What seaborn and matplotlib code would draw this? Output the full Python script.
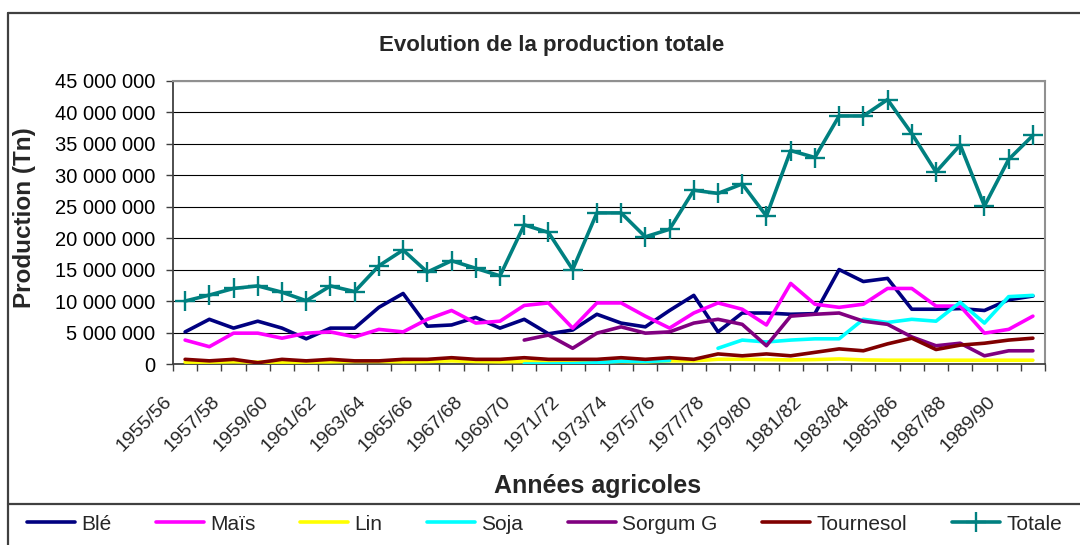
import numpy as np
import pandas as pd
import matplotlib
matplotlib.use("Agg")
import matplotlib.pyplot as plt
import matplotlib.transforms as mtransforms
from matplotlib.lines import Line2D
from matplotlib.ticker import FuncFormatter, FixedLocator
import seaborn as sns

# ---------------- data (tonnes, in millions) ----------------
years = ["1955/56", "1956/57", "1957/58", "1958/59", "1959/60", "1960/61", "1961/62",
         "1962/63", "1963/64", "1964/65", "1965/66", "1966/67", "1967/68", "1968/69",
         "1969/70", "1970/71", "1971/72", "1972/73", "1973/74", "1974/75", "1975/76",
         "1976/77", "1977/78", "1978/79", "1979/80", "1980/81", "1981/82", "1982/83",
         "1983/84", "1984/85", "1985/86", "1986/87", "1987/88", "1988/89", "1989/90",
         "1990/91"]

nan = np.nan
ble = [5.1, 7.1, 5.7, 6.8, 5.7, 4.0, 5.7, 5.7, 9.0, 11.2, 6.0, 6.2, 7.4, 5.7, 7.1, 4.8,
       5.4, 7.9, 6.5, 5.9, 8.5, 10.9, 5.1, 8.1, 8.1, 7.9, 8.0, 15.0, 13.1, 13.6, 8.7, 8.7,
       8.8, 8.5, 10.2, 10.8]
mais = [3.8, 2.75, 4.9, 4.9, 4.1, 4.9, 5.1, 4.3, 5.5, 5.1, 7.1, 8.5, 6.5, 6.8, 9.3, 9.7,
        5.7, 9.7, 9.7, 7.6, 5.7, 8.1, 9.7, 8.7, 6.2, 12.8, 9.5, 9.0, 9.5, 12.0, 12.0, 9.2,
        9.2, 4.9, 5.5, 7.6]
lin = [0.3, 0.3, 0.35, 0.3, 0.3, 0.3, 0.35, 0.4, 0.4, 0.35, 0.4, 0.5, 0.4, 0.35, 0.4, 0.3,
       0.35, 0.4, 0.4, 0.35, 0.5, 0.5, 0.75, 0.75, 0.7, 0.65, 0.7, 0.8, 0.65, 0.6, 0.6, 0.6,
       0.6, 0.6, 0.6, 0.6]
soja = [nan] * 14 + [0.0, 0.0, 0.05, 0.2, 0.45, 0.4, 0.55, nan, 2.5, 3.8, 3.5, 3.8, 4.0,
                     4.0, 7.1, 6.6, 7.1, 6.8, 9.8, 6.5, 10.7, 10.9]
sorgum = [nan] * 14 + [3.8, 4.6, 2.5, 4.9, 5.9, 4.9, 5.1, 6.5, 7.1, 6.3, 2.9, 7.6, 7.9,
                       8.1, 6.8, 6.3, 4.3, 2.9, 3.3, 1.3, 2.1, 2.1]
tournesol = [0.74, 0.5, 0.74, 0.2, 0.74, 0.5, 0.74, 0.5, 0.5, 0.74, 0.74, 1.0, 0.74, 0.74,
             1.0, 0.74, 0.74, 0.74, 1.0, 0.74, 1.0, 0.74, 1.6, 1.3, 1.6, 1.3, 1.85, 2.4,
             2.1, 3.2, 4.1, 2.3, 3.0, 3.3, 3.8, 4.1]
totale = [10.0, 10.95, 12.0, 12.4, 11.4, 10.05, 12.4, 11.5, 15.6, 18.1, 14.6, 16.4, 15.2,
          14.0, 22.1, 20.9, 15.0, 24.0, 24.0, 20.2, 21.4, 27.6, 27.1, 28.6, 23.5, 33.9,
          32.8, 39.4, 39.4, 42.0, 36.6, 30.5, 34.8, 25.1, 32.5, 36.3]

series_names = ["Blé", "Maïs", "Lin", "Soja", "Sorgum G", "Tournesol", "Totale"]
series_colors = ["#000080", "#FF00FF", "#FFFF00", "#00FFFF", "#800080", "#800000", "#008080"]

title = "Evolution de la production totale"
xlabel = "Années agricoles"
ylabel = "Production (Tn)"

# ---------------- build table ----------------
df = pd.DataFrame({
    "pos": np.arange(len(years)),
    "Blé": np.array(ble) * 1e6,
    "Maïs": np.array(mais) * 1e6,
    "Lin": np.array(lin) * 1e6,
    "Soja": np.array(soja) * 1e6,
    "Sorgum G": np.array(sorgum) * 1e6,
    "Tournesol": np.array(tournesol) * 1e6,
    "Totale": np.array(totale) * 1e6,
})

sns.set_theme(style="white")
plt.rcParams["font.family"] = ["Liberation Sans", "DejaVu Sans"]

fig = plt.figure(figsize=(10.8, 5.45), dpi=100)
ax = fig.add_axes([173 / 1080, 1 - 364 / 545, (1045 - 173) / 1080, (364 - 80.7) / 545])

lw = 2.6
for name, col in zip(series_names, series_colors):
    if name == "Soja":
        # the series has a missing year: draw as separate segments
        valid = df["Soja"].notna()
        seg = df["Soja"].isna().cumsum()
        first = True
        for _, part in df[valid].groupby(seg[valid]):
            sns.lineplot(data=part, x="pos", y="Soja", ax=ax, color=col, linewidth=lw,
                         label=name if first else None, zorder=3)
            first = False
    elif name == "Totale":
        sns.lineplot(data=df, x="pos", y=name, ax=ax, color=col, linewidth=lw,
                     marker="+", markersize=14, markeredgewidth=1.7,
                     markeredgecolor=col, label=name, zorder=4)
    else:
        sns.lineplot(data=df, x="pos", y=name, ax=ax, color=col, linewidth=lw,
                     label=name, zorder=3)

if ax.get_legend() is not None:
    ax.get_legend().remove()

# ---------------- axes styling ----------------
ax.set_xlim(-0.5, len(years) - 0.5)
ax.set_ylim(0, 45e6)
ax.set_xlabel("")
ax.set_ylabel("")

ax.yaxis.set_major_locator(FixedLocator(np.arange(0, 45e6 + 1, 5e6)))
ax.yaxis.set_major_formatter(FuncFormatter(lambda v, p: f"{int(round(v)):,}".replace(",", " ")))
ax.tick_params(axis="y", which="major", direction="out", length=5, width=1.0,
               color="#404040", pad=8, labelsize=14.5, labelcolor="black", left=True)

ax.yaxis.grid(True, color="black", linewidth=0.8)
ax.xaxis.grid(False)
ax.set_axisbelow(True)

label_pos = list(range(0, len(years), 2))
ax.set_xticks(label_pos)
ax.set_xticklabels([years[i] for i in label_pos], rotation=45, ha="right", va="top",
                   rotation_mode="anchor", fontsize=14)
ax.set_xticks(np.arange(-0.5, len(years), 1.0), minor=True)
ax.tick_params(axis="x", which="major", length=0, pad=0)
ax.tick_params(axis="x", which="minor", direction="out", length=5, width=1.0,
               color="#404040", bottom=True)
offset = mtransforms.ScaledTranslation(-0.22, -0.29, fig.dpi_scale_trans)
for lab in ax.get_xticklabels():
    lab.set_transform(lab.get_transform() + offset)

for side in ["top", "right"]:
    ax.spines[side].set_visible(True)
    ax.spines[side].set_color("#909090")
    ax.spines[side].set_linewidth(1.5)
for side in ["left", "bottom"]:
    ax.spines[side].set_color("#404040")
    ax.spines[side].set_linewidth(1.3)

# ---------------- texts ----------------
fig.text(552 / 1080, 1 - 45 / 545, title, ha="center", va="center",
         fontsize=16, fontweight="bold")
fig.text(25 / 1080, 1 - 218 / 545, ylabel, ha="center", va="center", rotation=90,
         fontsize=17.5, fontweight="bold")
fig.text(598 / 1080, 1 - 486 / 545, xlabel, ha="center", va="center",
         fontsize=18, fontweight="bold")

# ---------------- frame and separator ----------------
frame_kw = dict(color="#404040", linewidth=1.6, transform=fig.transFigure)
fig.add_artist(Line2D([8 / 1080, 8 / 1080], [0, 1 - 13 / 545], **frame_kw))
fig.add_artist(Line2D([8 / 1080, 1], [1 - 13 / 545, 1 - 13 / 545], **frame_kw))
fig.add_artist(Line2D([8 / 1080, 1], [1 - 504 / 545, 1 - 504 / 545], **frame_kw))

# ---------------- legend ----------------
handles, labels = ax.get_legend_handles_labels()
fig.legend(handles, labels, loc="center", bbox_to_anchor=(0.504, 1 - 524 / 545),
           ncol=7, frameon=False, fontsize=15, handlelength=2.3, handletextpad=0.3,
           columnspacing=2.15)

fig.savefig("out.png", dpi=100)
